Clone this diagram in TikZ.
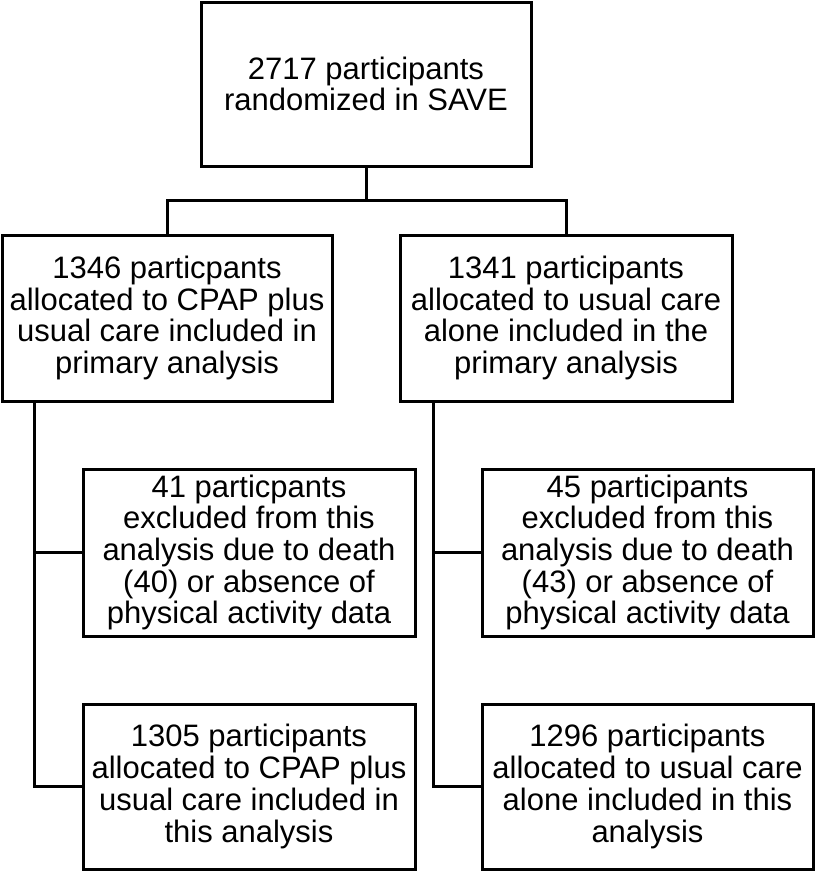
\documentclass[tikz,border=0pt]{standalone}
\usepackage{fontspec}
\setmainfont{Liberation Sans}
\begin{document}
\begin{tikzpicture}[x=1pt,y=-1pt,
  box/.style={draw=black,line width=3pt,align=center,inner sep=0pt,
    font=\fontsize{31}{31.7}\selectfont},
  conn/.style={draw=black,line width=3pt}]
\useasboundingbox[fill=white] (0,0) rectangle (815,871);
\node[box,minimum width=330pt,minimum height=164pt] (top) at (366,84) {2717 participants\\randomized in SAVE};
\node[box,minimum width=330pt,minimum height=166pt] (left) at (167,318) {1346 particpants\\allocated to CPAP plus\\usual care included in\\primary analysis};
\node[box,minimum width=332pt,minimum height=166pt] (right) at (566,318) {1341 participants\\allocated to usual care\\alone included in the\\primary analysis};
\node[box,minimum width=332pt,minimum height=167pt] (ml) at (249,552.5) {41 particpants\\excluded from this\\analysis due to death\\(40) or absence of\\physical activity data};
\node[box,minimum width=331pt,minimum height=167pt] (mr) at (647.5,552.5) {45 participants\\excluded from this\\analysis due to death\\(43) or absence of\\physical activity data};
\node[box,minimum width=332pt,minimum height=165pt] (bl) at (249,786.5) {1305 participants\\allocated to CPAP plus\\usual care included in\\this analysis};
\node[box,minimum width=331pt,minimum height=165pt] (br) at (647.5,786.5) {1296 participants\\allocated to usual care\\alone included in this\\analysis};
\coordinate (j) at (366,200);
\coordinate (lv) at (34,401);
\coordinate (rv) at (433,401);
\draw[conn] (top.south) -- (j);
\draw[conn] (left.north) |- (j) -| (right.north);
\draw[conn] (lv) |- (bl.west);
\draw[conn] (lv |- ml.west) -- (ml.west);
\draw[conn] (rv) |- (br.west);
\draw[conn] (rv |- mr.west) -- (mr.west);
\end{tikzpicture}
\end{document}
